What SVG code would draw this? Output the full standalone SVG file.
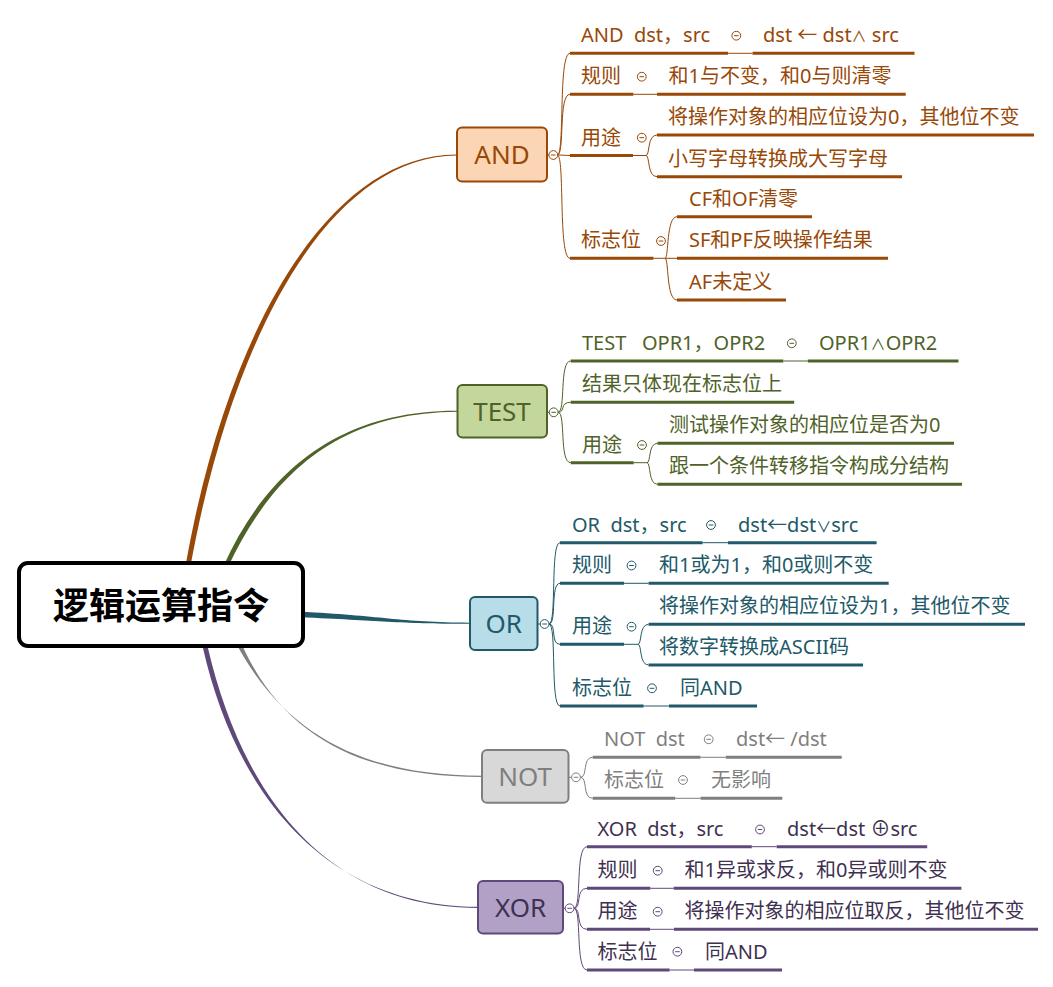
<svg xmlns="http://www.w3.org/2000/svg" xmlns:xlink="http://www.w3.org/1999/xlink" width="1053" height="987" viewBox="0 0 1053 987">
<style>
text { font-family: "Noto Sans", "Noto Sans CJK SC", sans-serif; font-size: 20px; white-space: pre; fill: currentColor; }
.ul { fill: none; stroke: currentColor; stroke-width: 3; }
.thin { fill: none; stroke: currentColor; stroke-width: 1; }
.box { stroke-width: 2; }
.nt { font-size: 26px; text-anchor: middle; }
.sm { font-size: 15px; }
.c-and { color: #984807; }
.c-test { color: #4F6228; }
.c-or { color: #215968; }
.c-not { color: #7F7F7F; }
.c-xor { color: #5F497A; }
.c-xor text { fill: #3F3151; }
.br { stroke: none; fill: currentColor; }
</style>
<defs>
<g id="tg"><circle r="4.4" fill="#fff" stroke="currentColor" stroke-width="1"/><path d="M-2.3 0H2.3" stroke="currentColor" stroke-width="1"/></g>
</defs>
<rect width="1053" height="987" fill="#fff"/>

<g id="connectors">
 <g class="c-and">
  <path class="br" d="M185.5 566 C227 330 329 153.8 457 154.5 L457 155.5 C331 156.4 233.5 330 190.5 566 Z"/>
  <path class="thin" d="M547 155 H549"/>
  <path class="thin" d="M557.3 155 C565 155 558 53.3 570 53.3 M557.3 155 C565 155 558 94.3 570 94.3 M557.3 155 C563 155 565 155.5 570 155.5 M557.3 155 C565 155 558 258.3 570 258.3"/>
  <path class="thin" d="M728 53.3 H752.6 M633.4 94.3 H657"/>
  <path class="thin" d="M633 155.5 H646 M646 155.5 C650 155.5 647 135 657 135 M646 155.5 C650 155.5 647 176.7 657 176.7"/>
  <path class="thin" d="M653.5 258.3 H665 M665 258.3 C669 258.3 666 216.7 677 216.7 M665 258.3 H677 M665 258.3 C669 258.3 666 300 677 300"/>
 </g>
 <g class="c-test">
  <path class="br" d="M223.5 566 C267 470 340 410.3 457.5 410.7 L457.5 411.7 C340 412.6 273 472 228.5 566 Z"/>
  <path class="thin" d="M547 412.3 H549.4"/>
  <path class="thin" d="M558 412.3 C566 412.3 559 361 570.7 361 M558 412.3 C566 412.3 559 402.3 570.7 402.3 M558 412.3 C566 412.3 559 462.7 570.7 462.7"/>
  <path class="thin" d="M783.3 361 H807.8"/>
  <path class="thin" d="M633.7 462.7 H647 M647 462.7 C651 462.7 648 443.3 657.5 443.3 M647 462.7 C651 462.7 648 484.3 657.5 484.3"/>
 </g>
 <g class="c-or">
  <path class="br" d="M300 611.8 C380 615.5 400 622.4 470 622.7 L470 623.8 C400 623.9 380 620.5 300 617.2 Z"/>
  <path class="thin" d="M537.5 624 H540.3"/>
  <path class="thin" d="M549 624 C557 624 550 542.7 560 542.7 M549 624 C557 624 550 583.3 560 583.3 M549 624 C557 624 550 644.3 560 644.3 M549 624 C557 624 550 706 560 706"/>
  <path class="thin" d="M702.6 542.7 H728 M624 583.3 H648.6 M643.6 706 H669"/>
  <path class="thin" d="M624 644.3 H638 M638 644.3 C642 644.3 639 624.3 648.6 624.3 M638 644.3 C642 644.3 639 665 648.6 665"/>
 </g>
 <g class="c-not">
  <path class="br" d="M237.5 646 C289 740 370 775.3 482 775.7 L482 776.9 C370 776.9 287 742.5 242.5 646 Z"/>
  <path class="thin" d="M568.5 777.3 H571.7"/>
  <path class="thin" d="M580.5 777.3 C588 777.3 582 757.3 592.7 757.3 M580.5 777.3 C588 777.3 582 798.3 592.7 798.3"/>
  <path class="thin" d="M700.5 757.3 H725.8 M675.2 798.3 H700.5"/>
 </g>
 <g class="c-xor">
  <path class="br" d="M202.5 646 C237 800 330 906.3 478 906.7 L478 907.9 C330 907.9 243 800 207.5 646 Z"/>
  <path class="thin" d="M563 908.3 H565.3"/>
  <path class="thin" d="M574 908.3 C582 908.3 575 846.7 587 846.7 M574 908.3 C582 908.3 575 888.3 587 888.3 M574 908.3 C582 908.3 575 929.3 587 929.3 M574 908.3 C582 908.3 575 970 587 970"/>
  <path class="thin" d="M751.8 846.7 H776.7 M650.3 888.3 H673.7 M650 929.3 H674 M669.6 970 H694"/>
 </g>
</g>

<g id="root">
 <rect x="19" y="563" width="284" height="83" rx="9" fill="#fff" stroke="#000" stroke-width="4"/>
 <text x="161" y="619" style="font-size:36px;font-weight:700;fill:#000;text-anchor:middle">逻辑运算指令</text>
</g>

<g id="and" class="c-and">
 <rect class="box" x="457" y="127.5" width="90" height="54" rx="5" fill="#FCD5B4" stroke="currentColor"/>
 <text class="nt" x="502" y="164">AND</text>
 <use xlink:href="#tg" href="#tg" x="553.3" y="155"/>
 <g id="and-syntax">
  <text x="581" y="42">AND  dst，src</text><path class="ul" d="M570 53.3 H728"/>
  <use xlink:href="#tg" href="#tg" x="736.3" y="35.7"/>
  <text x="763" y="42">dst ← dst<tspan class="sm">∧</tspan> src</text><path class="ul" d="M752.6 53.3 H914.5"/>
 </g>
 <g id="and-rule">
  <text x="581" y="83">规则</text><path class="ul" d="M570 94.3 H633.4"/>
  <use xlink:href="#tg" href="#tg" x="641.8" y="76.7"/>
  <text x="668.6" y="83">和1与不变，和0与则清零</text><path class="ul" d="M657 94.3 H905.7"/>
 </g>
 <g id="and-use">
  <text x="581" y="144.5">用途</text><path class="ul" d="M570 155.5 H633"/>
  <use xlink:href="#tg" href="#tg" x="641.8" y="137.7"/>
  <text x="668" y="124">将操作对象的相应位设为0，其他位不变</text><path class="ul" d="M657 135 H1034"/>
  <text x="668" y="165.7">小写字母转换成大写字母</text><path class="ul" d="M657 176.7 H902"/>
 </g>
 <g id="and-flag">
  <text x="581" y="247.3">标志位</text><path class="ul" d="M570 258.3 H653.5"/>
  <use xlink:href="#tg" href="#tg" x="661" y="241"/>
  <text x="689" y="205.7">CF和OF清零</text><path class="ul" d="M677 216.7 H812"/>
  <text x="689" y="247.3">SF和PF反映操作结果</text><path class="ul" d="M677 258.3 H888"/>
  <text x="689" y="289">AF未定义</text><path class="ul" d="M677 300 H786"/>
 </g>
</g>

<g id="test" class="c-test">
 <rect class="box" x="457.5" y="385" width="89.5" height="52.5" rx="5" fill="#C3D69B" stroke="currentColor"/>
 <text class="nt" x="502" y="420.5">TEST</text>
 <use xlink:href="#tg" href="#tg" x="553.7" y="412.3"/>
 <g id="test-syntax">
  <text x="582" y="350">TEST   OPR1，OPR2</text><path class="ul" d="M570.7 361 H783.3"/>
  <use xlink:href="#tg" href="#tg" x="791.8" y="343.3"/>
  <text x="819" y="350">OPR1<tspan class="sm">∧</tspan>OPR2</text><path class="ul" d="M807.8 361 H958.5"/>
 </g>
 <g id="test-result">
  <text x="582" y="391.3">结果只体现在标志位上</text><path class="ul" d="M570.7 402.3 H794.2"/>
 </g>
 <g id="test-use">
  <text x="582" y="451.7">用途</text><path class="ul" d="M570.7 462.7 H633.7"/>
  <use xlink:href="#tg" href="#tg" x="642" y="445"/>
  <text x="669" y="432.3">测试操作对象的相应位是否为0</text><path class="ul" d="M657.5 443.3 H954"/>
  <text x="669" y="473.3">跟一个条件转移指令构成分结构</text><path class="ul" d="M657.5 484.3 H962"/>
 </g>
</g>

<g id="or" class="c-or">
 <rect class="box" x="470" y="597" width="67.5" height="53" rx="5" fill="#B7DDE8" stroke="currentColor"/>
 <text class="nt" x="503.7" y="632.5">OR</text>
 <use xlink:href="#tg" href="#tg" x="544.6" y="624"/>
 <g id="or-syntax">
  <text x="572" y="531.7">OR  dst，src</text><path class="ul" d="M560 542.7 H702.6"/>
  <use xlink:href="#tg" href="#tg" x="711" y="525"/>
  <text x="738" y="531.7">dst←dst<tspan class="sm">∨</tspan>src</text><path class="ul" d="M728 542.7 H876.6"/>
 </g>
 <g id="or-rule">
  <text x="572" y="572.3">规则</text><path class="ul" d="M560 583.3 H624"/>
  <use xlink:href="#tg" href="#tg" x="631.5" y="565.5"/>
  <text x="659" y="572.3">和1或为1，和0或则不变</text><path class="ul" d="M648.6 583.3 H888.7"/>
 </g>
 <g id="or-use">
  <text x="572" y="633.3">用途</text><path class="ul" d="M560 644.3 H624"/>
  <use xlink:href="#tg" href="#tg" x="631.5" y="626.7"/>
  <text x="659" y="613.3">将操作对象的相应位设为1，其他位不变</text><path class="ul" d="M648.6 624.3 H1025"/>
  <text x="659" y="654">将数字转换成ASCII码</text><path class="ul" d="M648.6 665 H863"/>
 </g>
 <g id="or-flag">
  <text x="572" y="695">标志位</text><path class="ul" d="M560 706 H643.6"/>
  <use xlink:href="#tg" href="#tg" x="652" y="688.3"/>
  <text x="680" y="695">同AND</text><path class="ul" d="M669 706 H757"/>
 </g>
</g>

<g id="not" class="c-not">
 <rect class="box" x="482" y="750" width="86.5" height="52.7" rx="5" fill="#D8D8D8" stroke="currentColor"/>
 <text class="nt" x="525" y="785.5">NOT</text>
 <use xlink:href="#tg" href="#tg" x="576" y="777.3"/>
 <g id="not-syntax">
  <text x="604" y="746.3">NOT  dst</text><path class="ul" d="M592.7 757.3 H700.5"/>
  <use xlink:href="#tg" href="#tg" x="708.7" y="739.3"/>
  <text x="736" y="746.3">dst← /dst</text><path class="ul" d="M725.8 757.3 H841.7"/>
 </g>
 <g id="not-flag">
  <text x="604" y="787.3">标志位</text><path class="ul" d="M592.7 798.3 H675.2"/>
  <use xlink:href="#tg" href="#tg" x="683" y="780"/>
  <text x="711" y="787.3">无影响</text><path class="ul" d="M700.5 798.3 H782.3"/>
 </g>
</g>

<g id="xor" class="c-xor">
 <rect class="box" x="478" y="881" width="85" height="52.5" rx="5" fill="#B2A1C7" stroke="currentColor"/>
 <text class="nt" x="520.6" y="916.5">XOR</text>
 <use xlink:href="#tg" href="#tg" x="569.6" y="908.3"/>
 <g id="xor-syntax">
  <text x="597.5" y="835.7">XOR  dst，src</text><path class="ul" d="M587 846.7 H751.8"/>
  <use xlink:href="#tg" href="#tg" x="760" y="829.5"/>
  <text x="787" y="835.7">dst←dst ⊕src</text><path class="ul" d="M776.7 846.7 H927.2"/>
 </g>
 <g id="xor-rule">
  <text x="597.5" y="877.3">规则</text><path class="ul" d="M587 888.3 H650.3"/>
  <use xlink:href="#tg" href="#tg" x="657.7" y="870.7"/>
  <text x="684.5" y="877.3">和1异或求反，和0异或则不变</text><path class="ul" d="M673.7 888.3 H961.4"/>
 </g>
 <g id="xor-use">
  <text x="597.5" y="918.3">用途</text><path class="ul" d="M587 929.3 H650"/>
  <use xlink:href="#tg" href="#tg" x="657.7" y="911.7"/>
  <text x="684.5" y="918.3">将操作对象的相应位取反，其他位不变</text><path class="ul" d="M674 929.3 H1038"/>
 </g>
 <g id="xor-flag">
  <text x="597.5" y="959">标志位</text><path class="ul" d="M587 970 H669.6"/>
  <use xlink:href="#tg" href="#tg" x="677.4" y="951.7"/>
  <text x="705" y="959">同AND</text><path class="ul" d="M694 970 H782"/>
 </g>
</g>
</svg>
